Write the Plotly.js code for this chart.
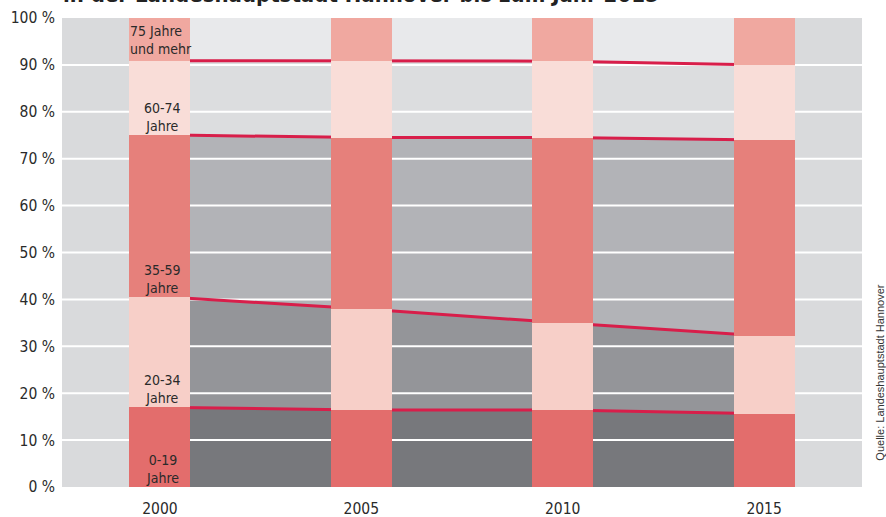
<!DOCTYPE html>
<html>
<head>
<meta charset="utf-8">
<script src="https://cdn.plot.ly/plotly-3.0.1.min.js"></script>
<style>html,body{margin:0;padding:0;background:#fff;}#chart{width:886px;height:517px;}</style>
</head>
<body>
<div id="chart"></div>
<script>
// ---- data (percent shares per age group) ----
var years = [2000, 2005, 2010, 2015];
var age0_19   = [17.0, 16.4, 16.4, 15.6];
var age20_34  = [23.6, 21.6, 18.6, 16.6];
var age35_59  = [34.5, 36.5, 39.5, 41.8];
var age60_74  = [15.8, 16.3, 16.3, 16.0];
var age75plus = [9.1, 9.2, 9.2, 10.0];
var groupNames = ["0-19<br>Jahre", "20-34<br>Jahre", "35-59<br>Jahre", "60-74<br>Jahre", "75 Jahre<br>und mehr"];
var yTickVals = [0,10,20,30,40,50,60,70,80,90,100];
var yTickText = ["0 %","10 %","20 %","30 %","40 %","50 %","60 %","70 %","80 %","90 %","100 %"];
var titleText = "in der Landeshauptstadt Hannover bis zum Jahr 2015";
var sourceText = "Quelle: Landeshauptstadt Hannover";

// ---- styles ----
var groups = [age0_19, age20_34, age35_59, age60_74, age75plus];
var barColors  = ["#e36d6c", "#f7cfc8", "#e6807b", "#f9ddd8", "#f0a8a0"];
var bandColors = ["#77787c", "#949599", "#b2b3b7", "#dcdddf", "#e8e9eb"];
var lineColor = "#d81e4a";
var FONT = "'Liberation Sans Narrow', 'DejaVu Sans Condensed', 'Roboto', sans-serif";
var xRange = [1997.57, 2017.43];
var yRange = [0, 100];

// cumulative boundaries
var cum = [years.map(function(){return 0;})];
groups.forEach(function(g, i){
  cum.push(g.map(function(v, j){ return cum[i][j] + v; }));
});

var traces = [];
// band areas between bars (main subplot)
groups.forEach(function(g, i){
  var top = (i === groups.length - 1) ? years.map(function(){return yRange[1];}) : cum[i+1];
  var bot = cum[i];
  traces.push({
    type: "scatter", mode: "lines", fill: "toself", fillcolor: bandColors[i],
    x: years.concat(years.slice().reverse()),
    y: bot.concat(top.slice().reverse()),
    line: {width: 0, color: bandColors[i]}, hoverinfo: "skip", showlegend: false
  });
});
// white gridlines above the bands
var gx = [], gy = [];
yTickVals.slice(1, -1).forEach(function(v){
  gx.push(xRange[0], xRange[1], null); gy.push(v, v, null);
});
traces.push({type: "scatter", mode: "lines", x: gx, y: gy, connectgaps: false,
  line: {color: "#ffffff", width: 2}, hoverinfo: "skip", showlegend: false});
// red boundary lines
for (var i = 1; i <= 4; i++) {
  traces.push({type: "scatter", mode: "lines", x: years, y: cum[i],
    line: {color: lineColor, width: 3}, hoverinfo: "skip", showlegend: false});
}
// stacked bars on overlay subplot (drawn on top)
groups.forEach(function(g, i){
  traces.push({
    type: "bar", x: years, y: g, width: 1.515, xaxis: "x2", yaxis: "y2",
    marker: {color: barColors[i], line: {width: 0}},
    hoverinfo: "skip", showlegend: false
  });
});

var annotations = [];
// labels inside first bar
for (var i = 0; i < 4; i++) {
  annotations.push({x: years[0], y: cum[i][0], xref: "x", yref: "y", text: groupNames[i],
    showarrow: false, xanchor: "center", yanchor: "bottom", xshift: 3, yshift: -1, align: "center",
    font: {family: FONT, size: 14, color: "#2a2a2a"}});
}
annotations.push({x: years[0], y: 100, xref: "x", yref: "y", text: groupNames[4],
  showarrow: false, xanchor: "center", yanchor: "top", xshift: 1, yshift: -3, align: "left",
  font: {family: FONT, size: 14, color: "#2a2a2a"}});
// cut-off title (as in the reference)
annotations.push({x: 0, y: 1.02, xref: "paper", yref: "paper", text: "<b>" + titleText + "</b>",
  showarrow: false, xanchor: "left", yanchor: "bottom", xshift: -1,
  font: {family: FONT, size: 22, color: "#222"}});
// source
annotations.push({x: 1.022, y: 0.243, xref: "paper", yref: "paper", text: sourceText,
  showarrow: false, textangle: -90, xanchor: "center", yanchor: "middle",
  font: {family: "'Liberation Sans Narrow', 'Liberation Sans', Arial, sans-serif", size: 11, color: "#333"}});

var layout = {
  width: 886, height: 517,
  margin: {l: 62, r: 24, t: 18, b: 30, pad: 0},
  paper_bgcolor: "#ffffff",
  plot_bgcolor: "#d9dadc",
  barmode: "stack",
  bargap: 0,
  showlegend: false,
  xaxis: {range: xRange, tickvals: years, ticktext: years.map(String),
    showgrid: false, zeroline: false, showline: false, ticks: "", ticklabelstandoff: 10,
    tickfont: {family: FONT, size: 15.5, color: "#2a2a2a"}, fixedrange: true},
  yaxis: {range: yRange, tickvals: yTickVals, ticktext: yTickText,
    showgrid: false, zeroline: false, showline: false,
    ticks: "", ticklabelstandoff: 6,
    tickfont: {family: FONT, size: 15.5, color: "#2a2a2a"}, fixedrange: true},
  xaxis2: {range: xRange, overlaying: "x", visible: false, fixedrange: true},
  yaxis2: {range: yRange, overlaying: "y", visible: false, fixedrange: true},
  annotations: annotations
};

Plotly.newPlot("chart", traces, layout, {displayModeBar: false, staticPlot: true});
</script>
</body>
</html>
